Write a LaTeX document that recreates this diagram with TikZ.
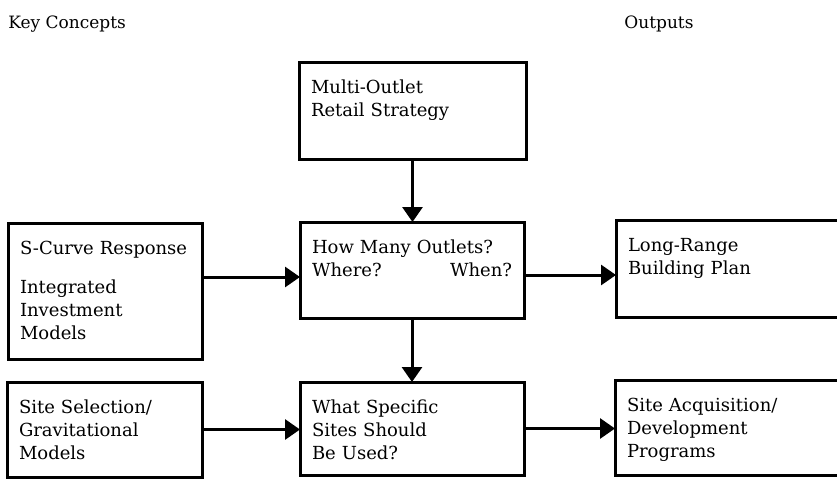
\documentclass[tikz,border=0pt]{standalone}
\usepackage{fontspec}
\setmainfont{DejaVu Serif}
\usetikzlibrary{arrows.meta}

\begin{document}
\begin{tikzpicture}[x=0.5pt, y=-0.5pt,
    box/.style={draw, line width=1.5pt, outer sep=0pt, anchor=north west,
      inner xsep=6pt, inner ysep=7.5pt, align=left, text height=8pt,
      font=\fontsize{9}{11.5}\selectfont},
    head/.style={anchor=west, inner sep=0pt, font=\fontsize{8.5}{10}\selectfont},
    arr/.style={-{Triangle[length=7.5pt, width=10pt]}, line width=1.5pt}]
    \clip (0,0) rectangle (837,478);

    % Headings
    \node (keyhead) [head] at (8, 24) {Key Concepts};
    \node (outhead) [head] at (624, 24) {Outputs};

    % Nodes
    \node (multi) [box, text width=101.5pt, text depth=25.5pt] at (299, 62) {Multi-Outlet\\Retail Strategy};
    \node (scurve) [box, text width=85pt, text depth=45pt] at (8, 223) {S-Curve Response\\[8pt]Integrated\\Investment\\Models};
    \node (howmany) [box, text width=100pt, text depth=25pt] at (300, 222) {How Many Outlets?\\Where?\hfill When?};
    \node (longrange) [box, text width=108pt, text depth=25.5pt] at (616, 220) {Long-Range\\Building Plan};
    \node (sitesel) [box, text width=85.5pt, text depth=24.5pt] at (7, 382) {Site Selection/\\Gravitational\\Models};
    \node (specific) [box, text width=100pt, text depth=23.5pt] at (300, 382) {What Specific\\Sites Should\\Be Used?};
    \node (acquis) [box, text width=106pt, text depth=24.5pt] at (615, 380) {Site Acquisition/\\Development\\Programs};

    \coordinate (hmin) at ([yshift=-3.5pt]howmany.west);
    \coordinate (hmout) at ([yshift=-2.5pt]howmany.east);

    % Edges
    \draw[arr] (multi.south) -- (multi.south |- howmany.north);
    \draw[arr] (howmany.south) -- (howmany.south |- specific.north);
    \draw[arr] (scurve.east |- hmin) -- (hmin);  % into the question box
    \draw[arr] (hmout) -- (hmout -| longrange.west);
    \draw[arr] (sitesel.east) -- (sitesel.east -| specific.west);
    \draw[arr] (specific.east) -- (specific.east -| acquis.west);
\end{tikzpicture}
\end{document}
